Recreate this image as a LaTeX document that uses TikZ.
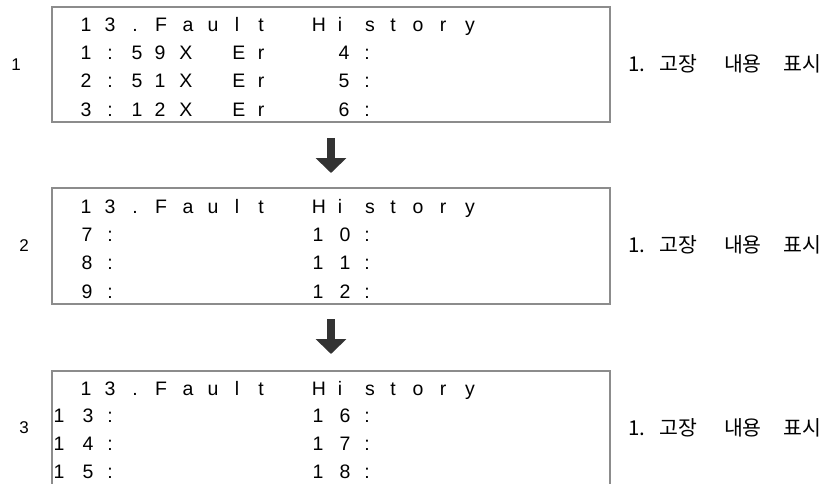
\documentclass[tikz,border=0pt]{standalone}
\usepackage{fontspec}
\setmainfont{Liberation Sans}
\newfontfamily\krfont{Noto Sans CJK KR}
\usetikzlibrary{arrows.meta}
\definecolor{boxgray}{HTML}{8C8C8C}
\definecolor{arrowgray}{HTML}{333333}
\newcommand\lcdrow[3]{\foreach \x/\c [count=\i] in {#3} {\node[lcdch] (#1-\i) at (\x,#2) {\c};}}
\begin{document}
\begin{tikzpicture}[x=1pt,y=-1pt,
  lcdbox/.style={draw=boxgray,line width=1.1pt,rectangle,inner sep=0pt},
  lcdch/.style={anchor=base,inner sep=0pt,font=\fontsize{19.5}{19.5}\selectfont},
  steplabel/.style={font=\fontsize{17}{17}\selectfont,inner sep=0pt},
  desc/.style={anchor=west,inner sep=0pt,font=\krfont\fontsize{20.5}{20.5}\selectfont},
  downarrow/.style={draw=arrowgray,line width=8.5pt,-{Triangle[width=30pt,length=15pt]}}]
\useasboundingbox (0,0) rectangle (827,484);
\clip (0,0) rectangle (827,484);
% boxes
\node[lcdbox,minimum width=558pt,minimum height=115pt] (b1) at (331,64.5) {};
\node[lcdbox,minimum width=558pt,minimum height=116pt] (b2) at (331,246) {};
\node[lcdbox,minimum width=558pt,minimum height=122pt] (b3) at (331,432) {};
% box 1
\lcdrow{b1t}{32}{86/1,110/3,135/.,161/F,188/a,213/u,237/l,261/t,319/H,340/i,370/s,393/t,418/o,443/r,470/y}
\lcdrow{b1r1}{60}{86/1,110/:,137/5,160/9,186/X,239/E,261/r,344/4,367/:}
\lcdrow{b1r2}{88}{86/2,110/:,137/5,160/1,186/X,239/E,261/r,344/5,367/:}
\lcdrow{b1r3}{117}{86/3,110/:,137/1,160/2,186/X,239/E,261/r,344/6,367/:}
% box 2
\lcdrow{b2t}{213}{86/1,110/3,135/.,161/F,188/a,213/u,237/l,261/t,319/H,340/i,370/s,393/t,418/o,443/r,470/y}
\lcdrow{b2r1}{241}{87/7,110/:,318/1,345/0,367/:}
\lcdrow{b2r2}{269}{87/8,110/:,318/1,345/1,367/:}
\lcdrow{b2r3}{298}{87/9,110/:,318/1,345/2,367/:}
% box 3
\lcdrow{b3t}{395}{86/1,110/3,135/.,161/F,188/a,213/u,237/l,261/t,319/H,340/i,370/s,393/t,418/o,443/r,470/y}
\lcdrow{b3r1}{422}{59/1,88/3,110/:,318/1,345/6,367/:}
\lcdrow{b3r2}{450}{59/1,88/4,110/:,318/1,345/7,367/:}
\lcdrow{b3r3}{478}{59/1,88/5,110/:,318/1,345/8,367/:}
% step labels
\node[steplabel] (l1) at (16,64.5) {1};
\node[steplabel] (l2) at (24,246) {2};
\node[steplabel] (l3) at (24,428) {3};
% descriptions
\node[desc] (d1) at (628,64) {1.\hspace{14pt}고장\hspace{27pt}내용\hspace{22pt}표시};
\node[desc] (d2) at (628,245) {1.\hspace{14pt}고장\hspace{27pt}내용\hspace{22pt}표시};
\node[desc] (d3) at (628,428) {1.\hspace{14pt}고장\hspace{27pt}내용\hspace{22pt}표시};
% arrows
\coordinate (a1s) at (331,138);
\coordinate (a1e) at (331,173);
\coordinate (a2s) at (331,319);
\coordinate (a2e) at (331,354);
\draw[downarrow] (a1s) -- (a1e);
\draw[downarrow] (a2s) -- (a2e);
\end{tikzpicture}
\end{document}
